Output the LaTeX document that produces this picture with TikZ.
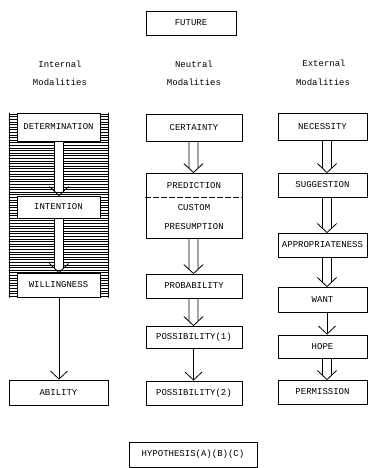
\documentclass[tikz,border=0pt]{standalone}
\usepackage{fontspec}
\setmonofont{Liberation Mono}
\usetikzlibrary{calc,arrows.meta}

% double-line (hollow) arrow from node #1 down to node #2, on the vertical line of coordinate #3
\newcommand{\hollowarrow}[3]{%
  \path (#1.south -| #3) coordinate (ha) (#2.north -| #3) coordinate (hb);
  \fill[white] ($(ha)+(-4.5,0.6)$) rectangle ($(hb)+(4.5,-4.5)$);
  \draw ($(ha)+(-4.5,0)$) -- ($(hb)+(-4.5,-4.5)$)
        ($(ha)+(4.5,0)$) -- ($(hb)+(4.5,-4.5)$)
        ($(hb)+(-9.5,-9)$) -- (hb) -- ($(hb)+(9.5,-9)$);
}

\begin{document}
\begin{tikzpicture}[x=1pt,y=-1pt,line cap=round,line join=round,line width=.8pt,
  every node/.style={font=\fontsize{9}{10}\selectfont\ttfamily},
  box/.style={draw,fill=white,inner sep=0pt,minimum width=#1},
  box/.default=96,
  hatch/.style={line width=.45pt},
  single/.style={-{Straight Barb[length=8pt,width=17pt]}}]
  \useasboundingbox (0,0) rectangle (368,468);
  % column lines for the arrows
  \coordinate (lx) at (59,0);
  \coordinate (mx) at (193.5,0);
  \coordinate (rx) at (327,0);

  \node[box=90,minimum height=24] (fut) at (191,23) {FUTURE};

  % headings
  \node (inth) at (60,64) {Internal};
  \node (intm) at (60,82) {Modalities};
  \node (neuh) at (194,64) {Neutral};
  \node (neum) at (194,82) {Modalities};
  \node (exth) at (324,63) {External};
  \node (extm) at (323,82) {Modalities};

  % internal modalities: hatched band
  \foreach \y in {114,116.6,...,297} \draw[hatch] (9,\y) -- (108,\y);
  \draw (9,113) -- (9,297.5) (108,113) -- (108,297.5);
  \node[box=83,minimum height=28] (det) at (58.5,127) {DETERMINATION};
  \node[box=83,minimum height=22] (int) at (58.5,207) {INTENTION};
  \node[box=83,minimum height=24] (wil) at (58.5,285) {WILLINGNESS};
  \node[box=99,minimum height=25] (abl) at (58.5,392.5) {ABILITY};
  \hollowarrow{det}{int}{lx}
  \hollowarrow{int}{wil}{lx}
  \draw[single] (wil.south -| lx) -- (abl.north -| lx);

  % neutral modalities
  \node[box,minimum height=27] (cer) at (194,127.5) {CERTAINTY};
  \node[box,minimum height=65] (pred) at (194,205.5) {};
  \node (predt) at (194,186) {PREDICTION};
  \node (cust) at (194,208) {CUSTOM};
  \node (pres) at (194,227) {PRESUMPTION};
  \draw[dash pattern=on 5pt off 3pt] ([yshift=8.5pt]pred.west) -- ([yshift=8.5pt]pred.east);
  \node[box,minimum height=24] (prob) at (194,286) {PROBABILITY};
  \node[box,minimum height=22] (pos1) at (194,337) {POSSIBILITY(1)};
  \node[box,minimum height=24] (pos2) at (194,393) {POSSIBILITY(2)};
  \hollowarrow{cer}{pred}{mx}
  \hollowarrow{pred}{prob}{mx}
  \hollowarrow{prob}{pos1}{mx}
  \draw[single] (pos1.south -| mx) -- (pos2.north -| mx);

  % external modalities
  \node[box=89,minimum height=27] (nec) at (322.5,126.5) {NECESSITY};
  \node[box=89,minimum height=24] (sug) at (322.5,185) {SUGGESTION};
  \node[box=89,minimum height=24] (app) at (322.5,245) {APPROPRIATENESS};
  \node[box=89,minimum height=25] (wnt) at (322.5,299.5) {WANT};
  \node[box=89,minimum height=23] (hop) at (322.5,346.5) {HOPE};
  \node[box=89,minimum height=24] (per) at (322.5,392) {PERMISSION};
  \hollowarrow{nec}{sug}{rx}
  \hollowarrow{sug}{app}{rx}
  \hollowarrow{app}{wnt}{rx}
  \draw[single] (wnt.south -| rx) -- (hop.north -| rx);
  \hollowarrow{hop}{per}{rx}

  \node[box=128,minimum height=25] (hyp) at (193,454.5) {HYPOTHESIS(A)(B)(C)};
\end{tikzpicture}
\end{document}
